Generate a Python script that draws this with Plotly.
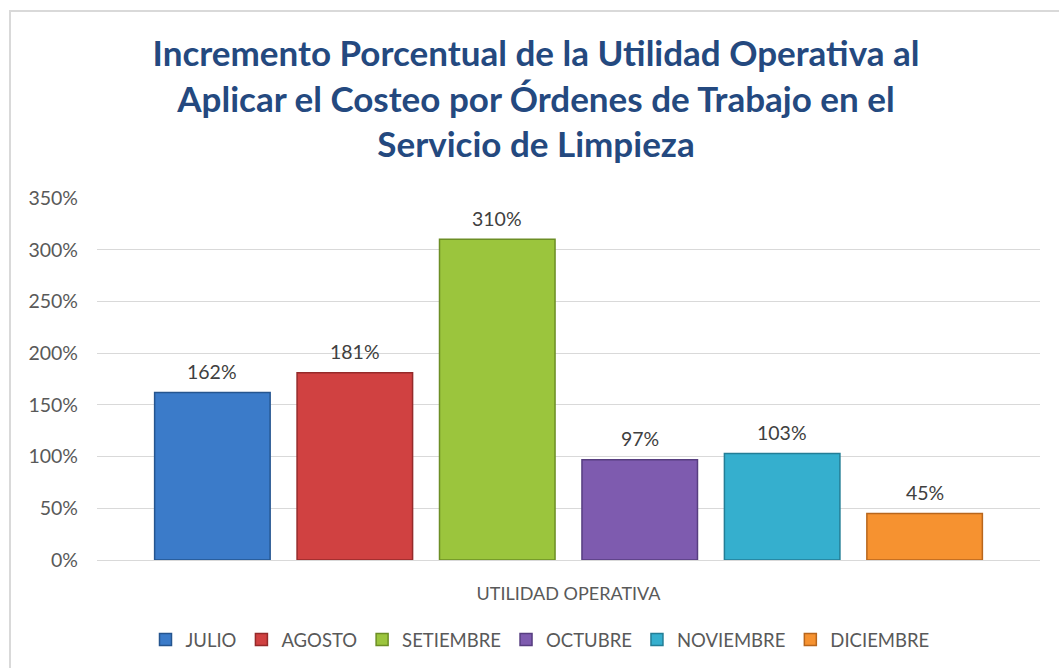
import plotly.graph_objects as go

# ---- data ----
categories = ["UTILIDAD OPERATIVA"]
months = ["JULIO", "AGOSTO", "SETIEMBRE", "OCTUBRE", "NOVIEMBRE", "DICIEMBRE"]
values = [1.62, 1.81, 3.10, 0.97, 1.03, 0.45]
labels = ["162%", "181%", "310%", "97%", "103%", "45%"]
y_ticks = [0, 0.5, 1.0, 1.5, 2.0, 2.5, 3.0, 3.5]
title_lines = [
    "Incremento Porcentual de la Utilidad Operativa al",
    "Aplicar el Costeo por Órdenes de Trabajo en el",
    "Servicio de Limpieza",
]

# ---- styles ----
fills = ["#3B7BC9", "#D04141", "#9BC53D", "#7E5BAF", "#35AFCE", "#F69230"]
edges = ["#25558F", "#952A2A", "#6C8E25", "#573E80", "#237E96", "#B8661C"]
FONT = "Lato, Carlito, Calibri, sans-serif"
W, H = 1059, 668
L, R, T, B = 97, 19, 198, 108

fig = go.Figure()
for i, (m, v) in enumerate(zip(months, values)):
    fig.add_trace(go.Bar(
        x=[i], y=[v], name=m, width=0.811,
        marker=dict(color=fills[i], line=dict(color=edges[i], width=1.5)),
        hoverinfo="skip",
    ))
    fig.add_annotation(x=i, y=v, text=labels[i], showarrow=False,
                       yanchor="middle", yshift=21,
                       font=dict(family=FONT, size=19.5, color="#404040"))

pw, ph = W - L - R, H - T - B
def px_x(p):
    return (p - L) / pw
def px_y(p):
    return (H - B - p) / ph

fig.add_shape(type="rect", xref="paper", yref="paper",
              x0=px_x(10), x1=px_x(1100), y0=px_y(11), y1=px_y(720),
              line=dict(color="#D9D9D9", width=2), fillcolor="rgba(0,0,0,0)",
              layer="below")

fig.update_layout(
    width=W, height=H,
    margin=dict(l=L, r=R, t=T, b=B, autoexpand=False),
    paper_bgcolor="white", plot_bgcolor="white",
    barmode="overlay",
    title=dict(text="<br>".join(title_lines), x=536 / W, xanchor="center",
               y=1 - 66 / H, yanchor="middle",
               font=dict(family=FONT, size=35, color="#24497F", weight="bold")),
    xaxis=dict(range=[-0.81, 5.81], tickvals=[2.5], ticktext=categories,
               showgrid=False, zeroline=False, showline=False, ticks="",
               ticklabelstandoff=21,
               tickfont=dict(family=FONT, size=18, color="#595959")),
    yaxis=dict(range=[0, 3.5], tickvals=y_ticks, tickformat=".0%",
               showgrid=True, gridcolor="#D9D9D9", gridwidth=1,
               zeroline=True, zerolinecolor="#D9D9D9", zerolinewidth=1,
               showline=False, ticks="", ticklabelstandoff=18,
               tickfont=dict(family=FONT, size=19.5, color="#595959")),
    legend=dict(orientation="h", x=px_x(540), xanchor="center",
                y=px_y(640), yanchor="middle",
                font=dict(family=FONT, size=18.5, color="#595959"),
                itemwidth=30, traceorder="normal"),
    showlegend=True,
)

fig.write_html("out.html")
